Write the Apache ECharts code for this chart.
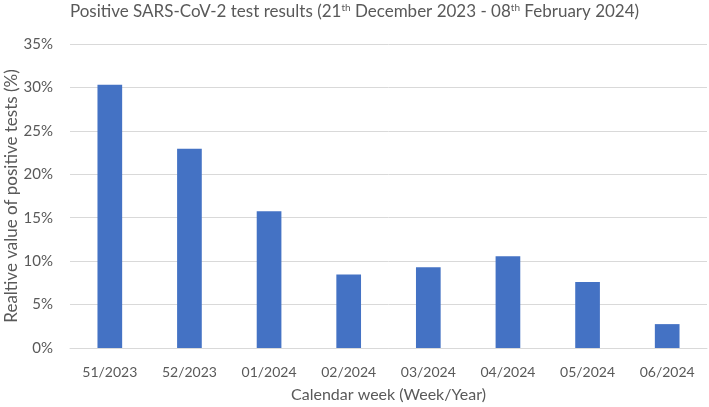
<!DOCTYPE html>
<html>
<head>
<meta charset="utf-8">
<script src="https://cdn.jsdelivr.net/npm/echarts@6/dist/echarts.min.js"></script>
<style>
  html, body { margin: 0; padding: 0; background: #fff; }
  #chart { width: 709px; height: 407px; }
</style>
</head>
<body>
<div id="chart"></div>
<script>
// calendar weeks and share of positive tests (%)
var weeks = ['51/2023', '52/2023', '01/2024', '02/2024', '03/2024', '04/2024', '05/2024', '06/2024'];
var positiveShare = [30.3, 22.95, 15.75, 8.45, 9.3, 10.55, 7.6, 2.75];
var yTicks = [0, 5, 10, 15, 20, 25, 30, 35];

var fontFamily = 'Lato, "Open Sans", sans-serif';
var textColor = '#595959';

var myChart = echarts.init(document.getElementById('chart'));

var option = {
    animation: false,
    title: {
        text: 'Positive SARS-CoV-2 test results (21{sup|th} December 2023 - 08{sup|th} February 2024)',
        left: 'center',
        top: -2,
        textStyle: {
            fontFamily: fontFamily,
            fontSize: 17,
            fontWeight: 'normal',
            color: textColor,
            rich: {
                sup: {
                    fontFamily: fontFamily,
                    fontSize: 10,
                    color: textColor,
                    verticalAlign: 'top',
                    padding: [0, 0, 8, 0]
                }
            }
        }
    },
    grid: {
        left: 70,
        right: 2,
        top: 44,
        bottom: 59,
        outerBoundsMode: 'none'
    },
    xAxis: {
        type: 'category',
        data: weeks,
        name: 'Calendar week (Week/Year)',
        nameLocation: 'middle',
        nameGap: 39,
        nameMoveOverlap: false,
        nameTextStyle: {
            fontFamily: fontFamily,
            fontSize: 16,
            color: textColor
        },
        axisLine: { lineStyle: { color: '#d9d9d9', width: 1 } },
        axisTick: { show: false },
        axisLabel: {
            fontFamily: fontFamily,
            fontSize: 14,
            color: textColor,
            margin: 17
        }
    },
    yAxis: {
        type: 'value',
        min: yTicks[0],
        max: yTicks[yTicks.length - 1],
        interval: 5,
        name: 'Realtive value of positive tests (%)',
        nameLocation: 'middle',
        nameGap: 50,
        nameMoveOverlap: false,
        nameTextStyle: {
            fontFamily: fontFamily,
            fontSize: 17,
            color: textColor
        },
        axisLine: { show: false },
        axisTick: { show: false },
        splitLine: { lineStyle: { color: '#d9d9d9', width: 1 } },
        axisLabel: {
            fontFamily: fontFamily,
            fontSize: 15,
            color: textColor,
            margin: 17,
            formatter: function(v) {
                return v + '%';
            }
        }
    },
    series: [
        {
            type: 'bar',
            data: positiveShare,
            barWidth: '31%',
            itemStyle: { color: '#4472c4' }
        }
    ]
};
myChart.setOption(option);
</script>
</body>
</html>
